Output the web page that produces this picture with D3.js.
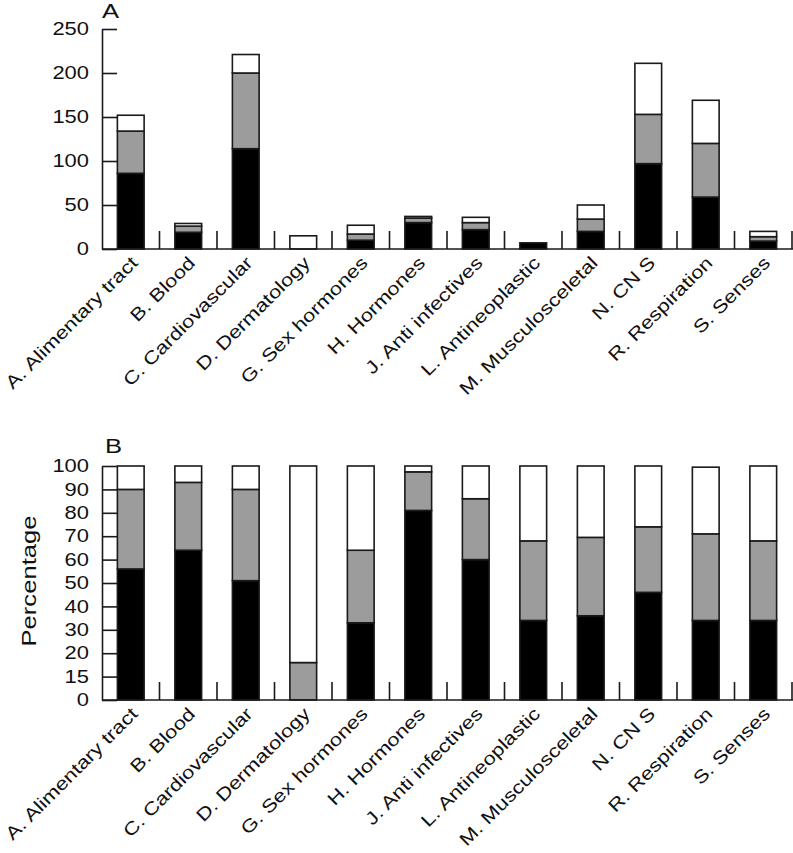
<!DOCTYPE html>
<html>
<head>
<meta charset="utf-8">
<script src="https://cdn.jsdelivr.net/npm/d3@7"></script>
<style>
  html, body { margin: 0; padding: 0; background: #fff; }
  svg { display: block; }
  text { font-family: "Liberation Sans", Arial, Helvetica, sans-serif; fill: #111; }
</style>
</head>
<body>
<svg id="chart" width="793" height="853"></svg>
<script>
// ---------- data ----------
const categories = ["A. Alimentary tract", "B. Blood", "C. Cardiovascular", "D. Dermatology",
  "G. Sex hormones", "H. Hormones", "J. Anti infectives", "L. Antineoplastic",
  "M. Musculosceletal", "N. CN S", "R. Respiration", "S. Senses"];
const seriesKeys = ["black", "gray", "white"];
const seriesColors = ["#000000", "#9c9c9c", "#ffffff"];

// Panel A: counts
const countBlack = [86, 19, 114, 0, 10, 30, 22, 7, 20, 97, 59, 9];
const countGray  = [48, 7, 86, 0, 7, 5, 8, 0, 14, 56, 61, 5];
const countWhite = [18, 3, 21, 15, 10, 2, 6, 0, 16, 58, 49, 6];
const countTicks = [0, 50, 100, 150, 200, 250];
const countTickLabels = ["0", "50", "100", "150", "200", "250"];

// Panel B: percentages
const pctBlack = [56, 64, 51, 0, 33, 81, 60, 34, 36, 46, 34, 34];
const pctGray  = [34, 29, 39, 16, 31, 16.5, 26, 34, 33.5, 28, 37, 34];
const pctWhite = [10, 7, 10, 84, 36, 2.5, 14, 32, 30.5, 26, 28.5, 32];
const pctTicks = [0, 10, 20, 30, 40, 50, 60, 70, 80, 90, 100];
const pctTickLabels = ["0", "15", "20", "30", "40", "50", "60", "70", "80", "90", "100"];

// ---------- drawing ----------
const svg = d3.select("#chart");
svg.append("rect").attr("width", 793).attr("height", 853).attr("fill", "#fff");

const XS = 1.22; // horizontal glyph stretch of the original typeface
const x = d3.scaleBand().domain(categories).range([102, 792]).padding(0);
const barW = x.bandwidth() * 0.465;

function panel(opts) {
  const { black, gray, white, ticks, tickLabels, domainMax, y0, y1, letter, letterX, letterY } = opts;
  const rows = categories.map((c, i) => ({ cat: c, black: black[i], gray: gray[i], white: white[i] }));
  const y = d3.scaleLinear().domain([0, domainMax]).range([y0, y1]);
  const g = svg.append("g");

  // stacked bars
  const stacked = d3.stack().keys(seriesKeys)(rows);
  stacked.forEach((layer, li) => {
    g.append("g").selectAll("rect").data(layer.filter(d => d[1] - d[0] > 0)).join("rect")
      .attr("x", d => x(d.data.cat) + (x.bandwidth() - barW) / 2)
      .attr("width", barW)
      .attr("y", d => y(d[1]))
      .attr("height", d => y(d[0]) - y(d[1]))
      .attr("fill", seriesColors[li])
      .attr("stroke", "#1a1a1a")
      .attr("stroke-width", 1.6);
  });

  // y axis (ticks pointing inward)
  const yAxis = d3.axisLeft(y).tickValues(ticks)
    .tickFormat((d, i) => tickLabels[i])
    .tickSizeInner(-15).tickSizeOuter(0).tickPadding(13);
  const ag = g.append("g").attr("transform", `translate(${x.range()[0]},0)`).call(yAxis);
  ag.select(".domain").attr("stroke", "#1a1a1a").attr("stroke-width", 1.6);
  ag.selectAll(".tick line").attr("stroke", "#1a1a1a").attr("stroke-width", 1.6);
  ag.selectAll(".tick text")
    .attr("x", null)
    .attr("transform", `translate(-13,0) scale(${XS},1)`)
    .attr("font-size", 18)
    .attr("font-family", "'Liberation Sans', Arial, sans-serif")
    .attr("fill", "#111");

  // x baseline and separators
  g.append("line").attr("x1", x.range()[0]).attr("x2", 793)
    .attr("y1", y(0)).attr("y2", y(0))
    .attr("stroke", "#1a1a1a").attr("stroke-width", 1.6);
  g.append("g").selectAll("line").data(categories).join("line")
    .attr("x1", d => x(d) + x.step()).attr("x2", d => x(d) + x.step())
    .attr("y1", y(0)).attr("y2", y(0) - 18)
    .attr("stroke", "#1a1a1a").attr("stroke-width", 1.6);

  // category labels
  g.append("g").selectAll("text").data(categories).join("text")
    .attr("transform", d => `translate(${x(d) + x.bandwidth() / 2 + 8},${y(0) + 15}) rotate(-45) scale(${XS},1)`)
    .attr("text-anchor", "end")
    .attr("font-size", 18)
    .text(d => d);

  // panel letter
  g.append("text")
    .attr("transform", `translate(${letterX},${letterY}) scale(${XS},1)`)
    .attr("font-size", 21)
    .text(letter);
  return y;
}

panel({ black: countBlack, gray: countGray, white: countWhite, ticks: countTicks,
  tickLabels: countTickLabels, domainMax: 250, y0: 249, y1: 29, letter: "A", letterX: 102, letterY: 18 });
panel({ black: pctBlack, gray: pctGray, white: pctWhite, ticks: pctTicks,
  tickLabels: pctTickLabels, domainMax: 100, y0: 700, y1: 466, letter: "B", letterX: 105, letterY: 453 });

// y title for panel B
svg.append("text")
  .attr("transform", `translate(36,581) rotate(-90) scale(${XS},1)`)
  .attr("text-anchor", "middle")
  .attr("font-size", 21)
  .text("Percentage");
</script>
</body>
</html>
